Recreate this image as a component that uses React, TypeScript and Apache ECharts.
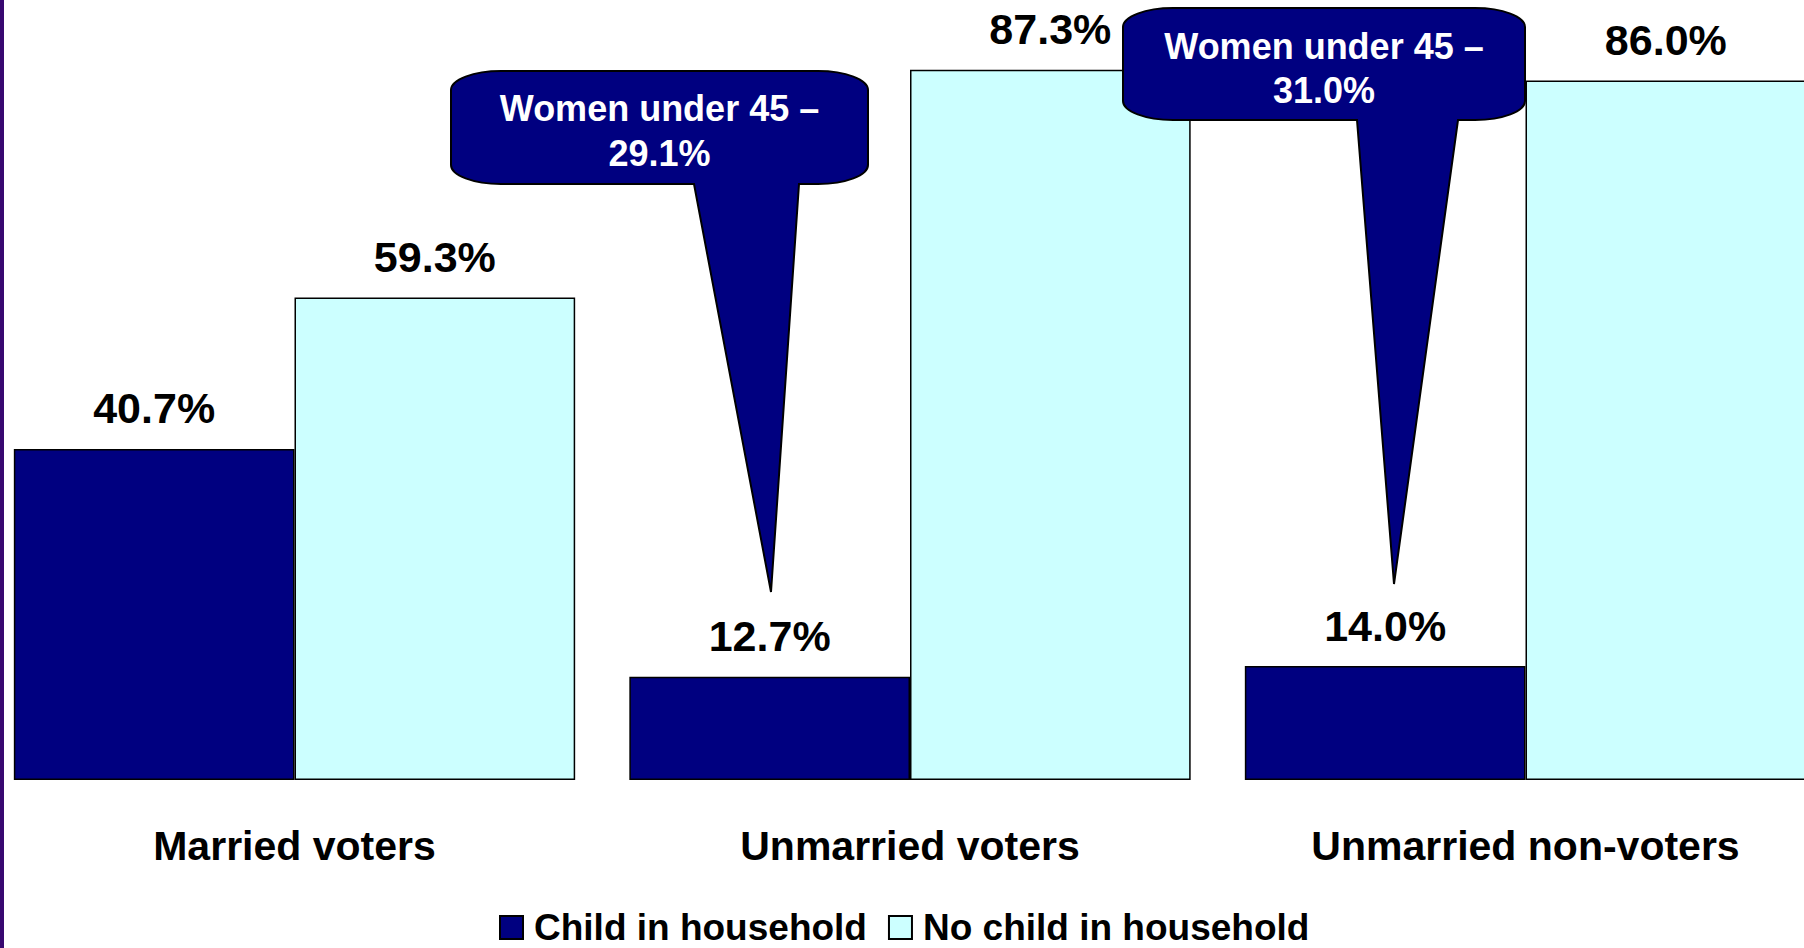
import React, { useEffect, useRef } from "react";
import * as echarts from "echarts";

const categories = ["Married voters", "Unmarried voters", "Unmarried non-voters"];
const seriesNames = ["Child in household", "No child in household"];
const childInHousehold = [40.7, 12.7, 14.0];
const noChildInHousehold = [59.3, 87.3, 86.0];
const calloutTexts = ["Women under 45 –\n29.1%", "Women under 45 –\n31.0%"];

const K = 0.5523;
function calloutPath(w: number, h: number, rx: number, ry: number, x1: number, x2: number, tx: number, ty: number) {
  const cx = rx * (1 - K);
  const cy = ry * (1 - K);
  return [
    `M0 ${ry}`,
    `C0 ${cy} ${cx} 0 ${rx} 0`,
    `L${w - rx} 0`,
    `C${w - cx} 0 ${w} ${cy} ${w} ${ry}`,
    `L${w} ${h - ry}`,
    `C${w} ${h - cy} ${w - cx} ${h} ${w - rx} ${h}`,
    `L${x2} ${h}`,
    `L${tx} ${ty}`,
    `L${x1} ${h}`,
    `L${rx} ${h}`,
    `C${cx} ${h} 0 ${h - cy} 0 ${h - ry}`,
    "Z",
  ].join(" ");
}

echarts.graphic.registerShape(
  "calloutA",
  echarts.graphic.extendPath(calloutPath(417, 113, 50, 19, 243, 348, 320, 521), {})
);
echarts.graphic.registerShape(
  "calloutB",
  echarts.graphic.extendPath(calloutPath(402, 112, 50, 19, 234, 335, 271, 576), {})
);

const FONT = "'Liberation Sans', Arial, sans-serif";

export default function App() {
  const ref = useRef<HTMLDivElement>(null);
  useEffect(() => {
    if (!ref.current) return;
    const chart = echarts.init(ref.current, null, { renderer: "svg" });
    const labelCfg = {
      show: true,
      position: "top",
      distance: 19,
      color: "#000",
      fontFamily: FONT,
      fontWeight: "bold",
      fontSize: 43,
      formatter: (p: any) => Number(p.value).toFixed(1) + "%",
    };
    chart.setOption({
      animation: false,
      backgroundColor: "#ffffff",
      grid: {
        left: -13.25,
        width: 1846.5,
        top: -33.5,
        bottom: 168,
        containLabel: false,
        outerBoundsMode: "none",
      },
      legend: {
        data: seriesNames,
        left: 499,
        top: 909,
        padding: 0,
        itemWidth: 23,
        itemHeight: 23,
        itemGap: 21,
        icon: "rect",
        textStyle: {
          fontFamily: FONT,
          fontWeight: "bold",
          fontSize: 37,
          lineHeight: 36,
          color: "#000",
          padding: [0, 0, 0, 6],
        },
      },
      xAxis: {
        type: "category",
        data: categories,
        axisLine: { show: false },
        axisTick: { show: false },
        axisLabel: {
          margin: 45,
          color: "#000",
          fontFamily: FONT,
          fontWeight: "bold",
          fontSize: 41,
          interval: 0,
        },
      },
      yAxis: { type: "value", min: 0, max: 100, show: false, splitLine: { show: false } },
      series: [
        {
          name: seriesNames[0],
          type: "bar",
          data: childInHousehold,
          barGap: "0%",
          barCategoryGap: "8.8%",
          itemStyle: { color: "#000080", borderColor: "#000", borderWidth: 1.5 },
          label: labelCfg,
        },
        {
          name: seriesNames[1],
          type: "bar",
          data: noChildInHousehold,
          barGap: "0%",
          barCategoryGap: "8.8%",
          itemStyle: { color: "#CCFFFF", borderColor: "#000", borderWidth: 1.5 },
          label: labelCfg,
        },
      ],
      graphic: [
        { type: "rect", left: 0, top: 0, z: 100, shape: { x: 0, y: 0, width: 4, height: 948 }, style: { fill: "#380870" } },
        {
          type: "calloutA",
          x: 451,
          y: 71,
          z: 100,
          style: { fill: "#000080", stroke: "#000", lineWidth: 2 },
        },
        {
          type: "text",
          x: 659.5,
          y: 130.5,
          z: 101,
          style: {
            text: calloutTexts[0],
            fill: "#fff",
            font: `bold 36px ${FONT}`,
            align: "center",
            verticalAlign: "middle",
            lineHeight: 45,
          },
        },
        {
          type: "calloutB",
          x: 1123,
          y: 8,
          z: 100,
          style: { fill: "#000080", stroke: "#000", lineWidth: 2 },
        },
        {
          type: "text",
          x: 1324,
          y: 68.5,
          z: 101,
          style: {
            text: calloutTexts[1],
            fill: "#fff",
            font: `bold 36px ${FONT}`,
            align: "center",
            verticalAlign: "middle",
            lineHeight: 44,
          },
        },
      ],
    });
    return () => chart.dispose();
  }, []);
  return (
    <div
      ref={ref}
      style={{ position: "fixed", left: 0, top: 0, width: 1804, height: 948, background: "#fff" }}
    />
  );
}
